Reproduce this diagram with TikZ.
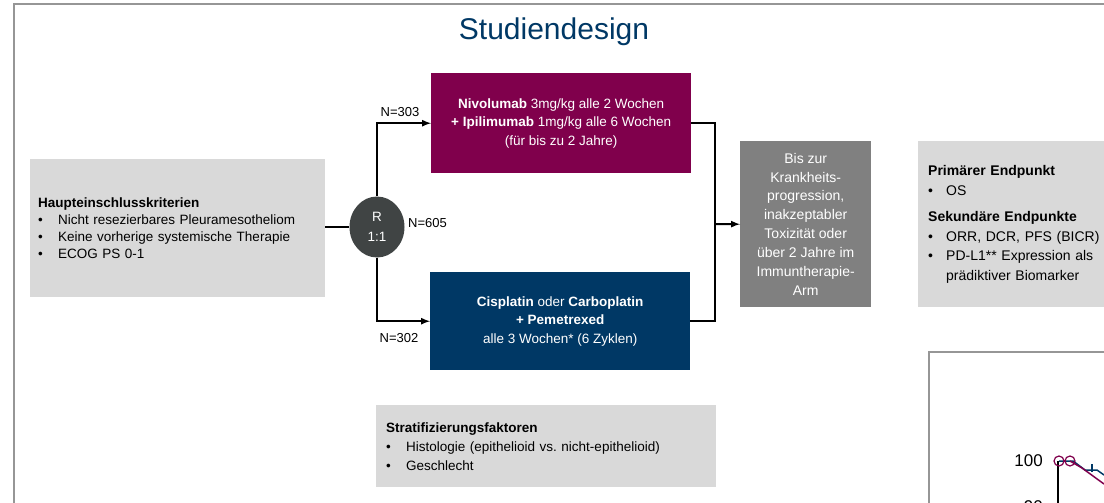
\documentclass[tikz,border=0pt]{standalone}
\usepackage{fontspec}
\setmainfont{Liberation Sans}
\usepackage{xcolor}
\usetikzlibrary{arrows,
	calc,
	positioning,
	shapes.geometric}
\definecolor{titleblue}{RGB}{0,56,101}
\definecolor{nivocol}{RGB}{128,0,76}
\definecolor{chemocol}{RGB}{0,56,101}
\definecolor{lgrey}{RGB}{217,217,217}
\definecolor{mgrey}{RGB}{128,128,128}
\definecolor{rgrey}{RGB}{64,68,68}
\definecolor{framegrey}{RGB}{150,150,150}
\tikzstyle{kbox}=[fill=lgrey, inner xsep=8pt, inner ysep=0, align=left, anchor=north west,
		font=\fontsize{13.5}{17}\selectfont]
\tikzstyle{armbox}=[inner sep=0, align=center, text=white, anchor=north west,
		font=\fontsize{13.5}{18.5}\selectfont]
\tikzstyle{conn}=[line width=2pt, black]
\tikzstyle{nlab}=[font=\fontsize{13}{15}\selectfont, inner sep=1pt]
\newcommand{\bul}[1][20pt]{\makebox[#1][l]{\textbullet}}

\begin{document}
\begin{tikzpicture}[x=1pt, y=-1pt]
            \useasboundingbox (0,0) rectangle (1104,503);
            \clip (0,0) rectangle (1104,503);
            \draw[framegrey, line width=2pt] (14,4) rectangle (1130,530);
            \node[text=titleblue, font=\fontsize{30}{34}\selectfont] (title) at (554,32) {Studiendesign};

            \node[kbox, text width=279pt, minimum height=138pt] (krit) at (30,159) {\textbf{Haupteinschlusskriterien}\\
                \bul Nicht resezierbares Pleuramesotheliom\\
                \bul Keine vorherige systemische Therapie\\
                \bul ECOG PS 0-1};
            \node[ellipse, fill=rgrey, minimum width=55pt, minimum height=61pt, inner sep=0, text=white, align=center,
                font=\fontsize{13.5}{20}\selectfont] (rnd) at (377,227) {R\\1:1};

            \node[armbox, fill=nivocol, minimum width=260pt, minimum height=100pt] (nivo) at (431,73) {\textbf{Nivolumab} 3mg/kg alle 2 Wochen\\
                \textbf{+ Ipilimumab} 1mg/kg alle 6 Wochen\\
                (für bis zu 2 Jahre)};
            \node[armbox, fill=chemocol, minimum width=260pt, minimum height=98pt] (chemo) at (430,272) {\textbf{Cisplatin} oder \textbf{Carboplatin}\\
                \textbf{+ Pemetrexed}\\
                alle 3 Wochen* (6 Zyklen)};
            \node[armbox, fill=mgrey, minimum width=131pt, minimum height=166pt,
                font=\fontsize{14}{18.9}\selectfont] (prog) at (740,141) {Bis zur\\ Krankheits-\\ progression,\\ inakzeptabler\\
                Toxizität oder\\ über 2 Jahre im\\ Immuntherapie-\\ Arm};
            \node[kbox, inner xsep=10pt, text width=182pt, minimum height=166pt,
                font=\fontsize{14}{19.5}\selectfont] (endp) at (918,141) {\textbf{Primärer Endpunkt}\\
                \bul[18pt]OS\\[7pt]
                \textbf{Sekundäre Endpunkte}\\
                \bul[18pt]ORR, DCR, PFS (BICR)\\
                \bul[18pt]PD-L1** Expression als\\
                \hspace*{18pt}prädiktiver Biomarker};
            \node[kbox, inner xsep=10pt, text width=320pt, minimum height=82pt,
                font=\fontsize{13.5}{19}\selectfont] (strat) at (376,405) {\textbf{Stratifizierungsfaktoren}\\
                \bul Histologie (epithelioid vs.\ nicht-epithelioid)\\
                \bul Geschlecht};

            \draw[conn] (krit.east |- rnd.west) -- (rnd.west);
            \draw[conn, -latex] (rnd.north) |- (nivo.west);
            \draw[conn, -latex] (rnd.south) |- (chemo.west);
            \coordinate (join) at (715,224);
            \draw[conn] (nivo.east) -| (join) |- (chemo.east);
            \draw[conn, -latex] (join) -- (prog.west);
            \node[nlab] (n303) at (400,112) {N=303};
            \node[nlab] (n302) at (399,338) {N=302};
            \node[nlab, anchor=west] (n605) at (407,223) {N=605};

            \draw[framegrey, line width=1.5pt] (929,352) rectangle (1130,530);
            \node[anchor=east, font=\fontsize{17}{19}\selectfont, inner sep=0] (y100) at (1043,461) {100};
            \node[anchor=east, font=\fontsize{17}{19}\selectfont, inner sep=0] (y90) at (1043,507) {90};
            \draw[black, line width=1.5pt] (1058,461) -- (1058,520);
            \draw[chemocol, line width=1.5pt] (1059,461) -- (1073,461) -- (1085,470) -- (1097,470) -- (1104,475);
            \draw[chemocol, line width=1.2pt] (1092,464) -- (1092,472);
            \draw[nivocol, line width=1.5pt] (1070,461) -- (1082,468) -- (1104,484);
            \draw[nivocol, line width=1.2pt] (1059,461) circle (5) (1070,461) circle (5);
        \end{tikzpicture}
\end{document}
